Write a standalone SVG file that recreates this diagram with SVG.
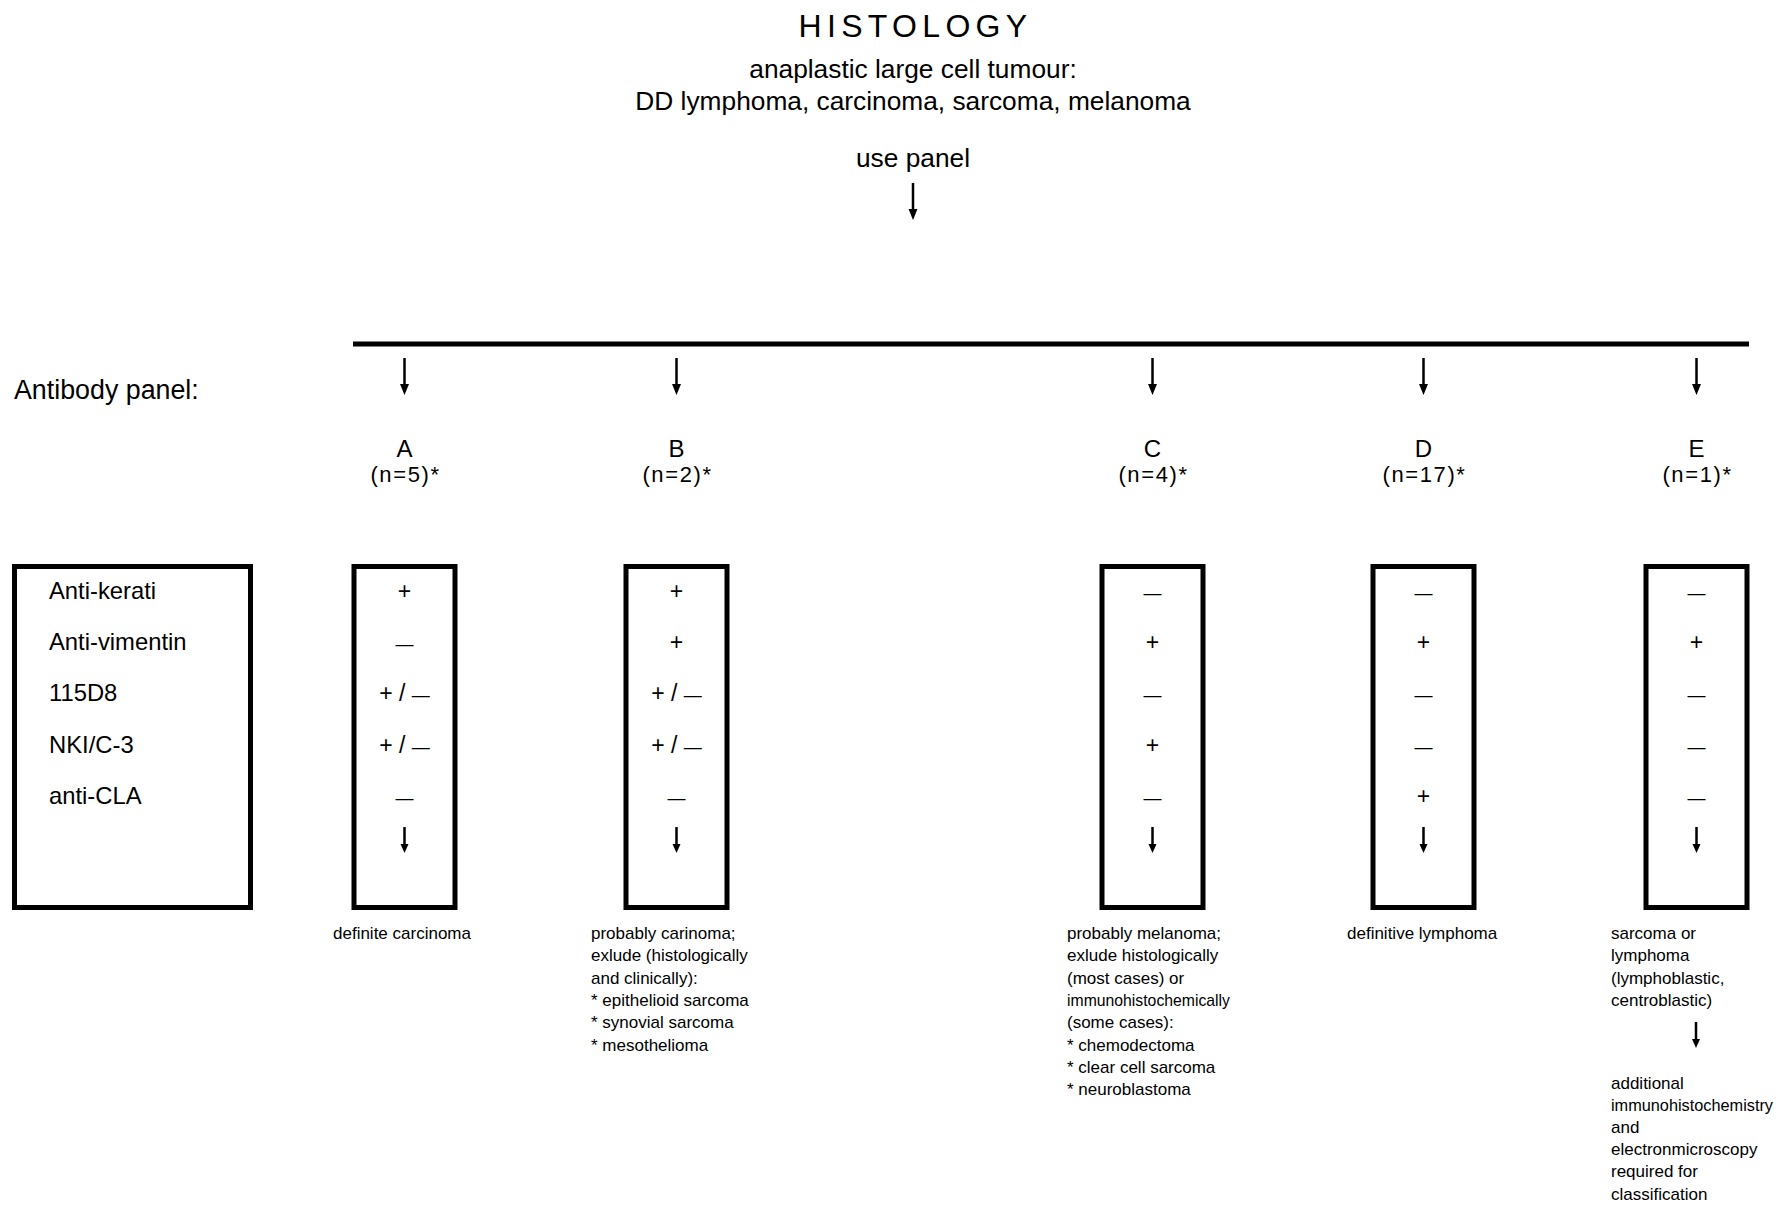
<svg xmlns="http://www.w3.org/2000/svg" width="1789" height="1205" viewBox="0 0 1789 1205">
<style>
text{font-family:"Liberation Sans",Arial,Helvetica,sans-serif;fill:#000}
.title{font-size:32px;letter-spacing:5.3px;text-anchor:middle}
.sub{font-size:26.3px;text-anchor:middle}
.lab{font-size:26.8px}
.ab{font-size:23.8px}
.val{font-size:23px;text-anchor:middle}
.dash{font-size:18px}
.col{font-size:24px;text-anchor:middle}
.n{font-size:22px;letter-spacing:1.6px;text-anchor:middle}
.note{font-size:17px}
.box{fill:none;stroke:#000;stroke-width:5}
.shaft{stroke:#000;stroke-width:2.5;fill:none}
.head{fill:#000}
</style>
<defs>
<g id="arrowS"><line class="shaft" x1="0" y1="0" x2="0" y2="18"/><polygon class="head" points="-4,17 4,17 0,26"/></g>
<g id="arrowL"><line class="shaft" x1="0" y1="0" x2="0" y2="27"/><polygon class="head" points="-4.5,26 4.5,26 0,37"/></g>
</defs>
<rect width="1789" height="1205" fill="#fff"/>

<g id="header">
<text class="title" x="915.5" y="37">HISTOLOGY</text>
<text class="sub" x="913" y="78">anaplastic large cell tumour:</text>
<text class="sub" x="913" y="110">DD lymphoma, carcinoma, sarcoma, melanoma</text>
<text class="sub" x="913" y="167">use panel</text>
</g>

<g id="connectors">
<use href="#arrowL" x="913" y="183"/>
<rect x="353" y="341.5" width="1396" height="5" fill="#000"/>
<use href="#arrowL" x="404.5" y="358"/>
<use href="#arrowL" x="676.5" y="358"/>
<use href="#arrowL" x="1152.5" y="358"/>
<use href="#arrowL" x="1423.5" y="358"/>
<use href="#arrowL" x="1696.5" y="358"/>
<use href="#arrowS" x="404.5" y="827"/>
<use href="#arrowS" x="676.5" y="827"/>
<use href="#arrowS" x="1152.5" y="827"/>
<use href="#arrowS" x="1423.5" y="827"/>
<use href="#arrowS" x="1696.5" y="827"/>
<use href="#arrowS" x="1696" y="1022"/>
</g>

<text class="lab" x="14" y="399">Antibody panel:</text>

<g id="antibodies">
<rect class="box" x="14.5" y="566.5" width="236" height="341"/>
<text class="ab" x="49" y="599">Anti-kerati</text>
<text class="ab" x="49" y="650">Anti-vimentin</text>
<text class="ab" x="49" y="701">115D8</text>
<text class="ab" x="49" y="753">NKI/C-3</text>
<text class="ab" x="49" y="804">anti-CLA</text>
</g>

<g id="panelA">
<text class="col" x="404.5" y="457">A</text>
<text class="n" x="405.5" y="482">(n=5)*</text>
<rect class="box" x="354" y="566.5" width="101" height="341"/>
<text class="val" x="404.5" y="599">+</text>
<text class="val dash" x="404.5" y="650">—</text>
<text class="val" x="404.5" y="701">+ / <tspan class="dash">—</tspan></text>
<text class="val" x="404.5" y="753">+ / <tspan class="dash">—</tspan></text>
<text class="val dash" x="404.5" y="804">—</text>
<text class="note" x="333" y="939">definite carcinoma</text>
</g>

<g id="panelB">
<text class="col" x="676.5" y="457">B</text>
<text class="n" x="677.5" y="482">(n=2)*</text>
<rect class="box" x="626" y="566.5" width="101" height="341"/>
<text class="val" x="676.5" y="599">+</text>
<text class="val" x="676.5" y="650">+</text>
<text class="val" x="676.5" y="701">+ / <tspan class="dash">—</tspan></text>
<text class="val" x="676.5" y="753">+ / <tspan class="dash">—</tspan></text>
<text class="val dash" x="676.5" y="804">—</text>
<text class="note" x="591" y="939">probably carinoma;</text>
<text class="note" x="591" y="961.3">exlude (histologically</text>
<text class="note" x="591" y="983.6">and clinically):</text>
<text class="note" x="591" y="1005.9">*  epithelioid sarcoma</text>
<text class="note" x="591" y="1028.2">*  synovial sarcoma</text>
<text class="note" x="591" y="1050.5">*  mesothelioma</text>
</g>

<g id="panelC">
<text class="col" x="1152.5" y="457">C</text>
<text class="n" x="1153.5" y="482">(n=4)*</text>
<rect class="box" x="1102" y="566.5" width="101" height="341"/>
<text class="val dash" x="1152.5" y="599">—</text>
<text class="val" x="1152.5" y="650">+</text>
<text class="val dash" x="1152.5" y="701">—</text>
<text class="val" x="1152.5" y="753">+</text>
<text class="val dash" x="1152.5" y="804">—</text>
<text class="note" x="1067" y="939">probably melanoma;</text>
<text class="note" x="1067" y="961.3">exlude histologically</text>
<text class="note" x="1067" y="983.6">(most cases) or</text>
<text class="note" x="1067" y="1005.9" textLength="163" lengthAdjust="spacingAndGlyphs">immunohistochemically</text>
<text class="note" x="1067" y="1028.2">(some cases):</text>
<text class="note" x="1067" y="1050.5">*  chemodectoma</text>
<text class="note" x="1067" y="1072.8">*  clear cell sarcoma</text>
<text class="note" x="1067" y="1095.1">*  neuroblastoma</text>
</g>

<g id="panelD">
<text class="col" x="1423.5" y="457">D</text>
<text class="n" x="1424.5" y="482">(n=17)*</text>
<rect class="box" x="1373" y="566.5" width="101" height="341"/>
<text class="val dash" x="1423.5" y="599">—</text>
<text class="val" x="1423.5" y="650">+</text>
<text class="val dash" x="1423.5" y="701">—</text>
<text class="val dash" x="1423.5" y="753">—</text>
<text class="val" x="1423.5" y="804">+</text>
<text class="note" x="1347" y="939">definitive lymphoma</text>
</g>

<g id="panelE">
<text class="col" x="1696.5" y="457">E</text>
<text class="n" x="1697.5" y="482">(n=1)*</text>
<rect class="box" x="1646" y="566.5" width="101" height="341"/>
<text class="val dash" x="1696.5" y="599">—</text>
<text class="val" x="1696.5" y="650">+</text>
<text class="val dash" x="1696.5" y="701">—</text>
<text class="val dash" x="1696.5" y="753">—</text>
<text class="val dash" x="1696.5" y="804">—</text>
<text class="note" x="1611" y="939">sarcoma or</text>
<text class="note" x="1611" y="961.3">lymphoma</text>
<text class="note" x="1611" y="983.6">(lymphoblastic,</text>
<text class="note" x="1611" y="1005.9">centroblastic)</text>
</g>

<g id="classification">
<text class="note" x="1611" y="1089">additional</text>
<text class="note" x="1611" y="1111.1" textLength="162" lengthAdjust="spacingAndGlyphs">immunohistochemistry</text>
<text class="note" x="1611" y="1133.2">and</text>
<text class="note" x="1611" y="1155.3">electronmicroscopy</text>
<text class="note" x="1611" y="1177.4">required for</text>
<text class="note" x="1611" y="1199.5">classification</text>
</g>
</svg>
